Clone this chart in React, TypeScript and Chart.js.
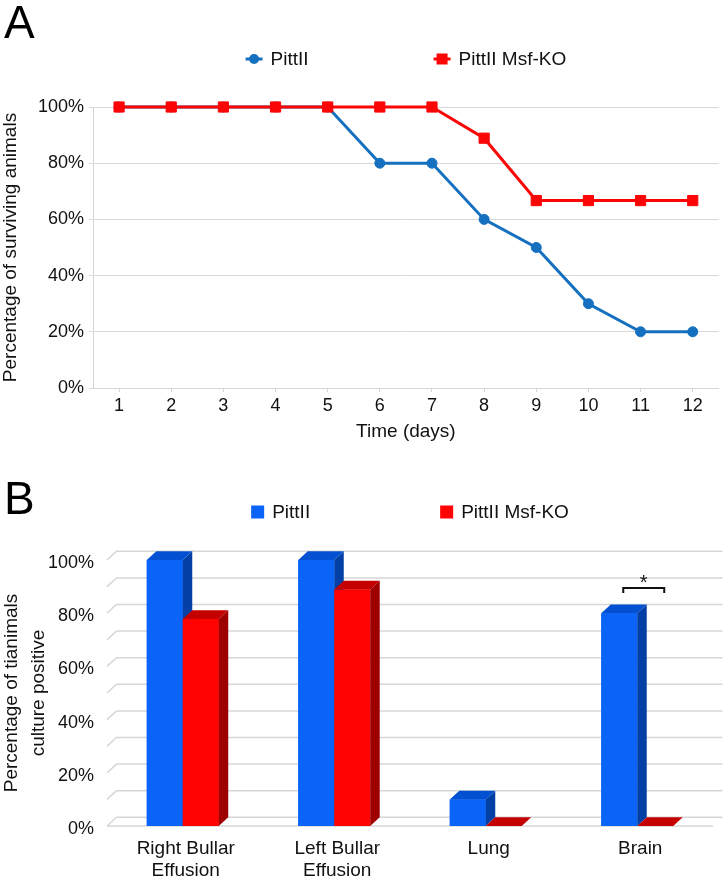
import React, { useEffect, useRef } from 'react';
import { Chart, registerables } from 'chart.js';

Chart.register(...registerables);

const FONT = "'Liberation Sans', Arial, Helvetica, sans-serif";
const TEXT = '#111111';

// ---------- Panel A data ----------
const days = ['1', '2', '3', '4', '5', '6', '7', '8', '9', '10', '11', '12'];
const pittIISurvival = [100, 100, 100, 100, 100, 80, 80, 60, 50, 30, 20, 20];
const msfKoSurvival = [100, 100, 100, 100, 100, 100, 100, 88.9, 66.7, 66.7, 66.7, 66.7];
const survivalTickStep = 20;

// ---------- Panel B data ----------
const sites: (string | string[])[] = [['Right Bullar', 'Effusion'], ['Left Bullar', 'Effusion'], 'Lung', 'Brain'];
const pittIICulture = [100, 100, 10, 80];
const msfKoCulture = [77.8, 88.9, 0, 0];
const cultureGridStep = 10;
const cultureLabelStep = 20;
const sigSiteIndex = 3;
const sigLevel = 89.5;
const sigMark = '*';

const seriesNames = ['PittII', 'PittII Msf-KO'];

const BLUE_A = '#1570bf';
const RED_A = '#fa0606';
const BLUE_B = { front: '#0a64f7', top: '#0350d2', side: '#0240a6' };
const RED_B = { front: '#ff0202', top: '#c40000', side: '#9e0000' };

const legendPlugin = {
  id: 'customLegend',
  afterDraw(chart: any, _args: any, opts: any) {
    const { ctx, chartArea } = chart;
    ctx.save();
    ctx.font = `${opts.fontSize}px ${FONT}`;
    const items = chart.data.datasets.map((ds: any, i: number) => ({
      text: ds.label,
      color: opts.colors[i],
      shape: opts.shapes[i],
    }));
    const widths = items.map((it: any) => opts.markerW + opts.textGap + ctx.measureText(it.text).width);
    const total = widths.reduce((a: number, b: number) => a + b, 0) + opts.itemGap * (items.length - 1);
    let x = (chartArea.left + chartArea.right) / 2 - total / 2 + (opts.shiftX || 0);
    const y = opts.y;
    items.forEach((it: any, i: number) => {
      ctx.fillStyle = it.color;
      ctx.strokeStyle = it.color;
      if (opts.kind === 'line') {
        ctx.lineWidth = 3;
        ctx.beginPath();
        ctx.moveTo(x, y);
        ctx.lineTo(x + opts.markerW, y);
        ctx.stroke();
        const cx = x + opts.markerW / 2;
        ctx.beginPath();
        if (it.shape === 'circle') {
          ctx.arc(cx, y, 5, 0, Math.PI * 2);
        } else {
          ctx.rect(cx - 5.5, y - 5.5, 11, 11);
        }
        ctx.fill();
      } else {
        ctx.fillRect(x, y - opts.markerW / 2, opts.markerW, opts.markerW);
      }
      ctx.fillStyle = TEXT;
      ctx.textBaseline = 'middle';
      ctx.textAlign = 'left';
      ctx.fillText(it.text, x + opts.markerW + opts.textGap, y + 1);
      x += widths[i] + opts.itemGap;
    });
    ctx.restore();
  },
};

const bar3dPlugin = {
  id: 'bar3d',
  beforeDatasetsDraw(chart: any, _args: any, opts: any) {
    const { ctx, chartArea, scales } = chart;
    const y = scales.y;
    const { dx, dy } = opts;
    ctx.save();
    ctx.strokeStyle = '#d6d6d6';
    ctx.lineWidth = 1.5;
    y.ticks.forEach((t: any) => {
      const py = y.getPixelForValue(t.value);
      ctx.beginPath();
      ctx.moveTo(chartArea.left, py);
      ctx.lineTo(chartArea.left + dx, py - dy);
      ctx.lineTo(chartArea.right + dx, py - dy);
      ctx.stroke();
    });
    const p0 = y.getPixelForValue(0);
    ctx.beginPath();
    ctx.moveTo(chartArea.left, p0);
    ctx.lineTo(chartArea.right, p0);
    ctx.stroke();
    ctx.restore();
  },
  afterDatasetsDraw(chart: any, _args: any, opts: any) {
    const { ctx } = chart;
    const { dx, dy } = opts;
    ctx.save();
    chart.data.datasets.forEach((_ds: any, di: number) => {
      const faces = opts.faces[di];
      const meta = chart.getDatasetMeta(di);
      meta.data.forEach((bar: any) => {
        const { x, y, base, width } = bar.getProps(['x', 'y', 'base', 'width'], true);
        const l = x - width / 2;
        const r = x + width / 2;
        ctx.fillStyle = faces.front;
        ctx.fillRect(l, y, width, base - y);
        ctx.fillStyle = faces.top;
        ctx.beginPath();
        ctx.moveTo(l, y);
        ctx.lineTo(r, y);
        ctx.lineTo(r + dx, y - dy);
        ctx.lineTo(l + dx, y - dy);
        ctx.closePath();
        ctx.fill();
        ctx.fillStyle = faces.side;
        ctx.beginPath();
        ctx.moveTo(r, y);
        ctx.lineTo(r + dx, y - dy);
        ctx.lineTo(r + dx, base - dy);
        ctx.lineTo(r, base);
        ctx.closePath();
        ctx.fill();
      });
    });
    ctx.restore();
  },
  afterDraw(chart: any, _args: any, opts: any) {
    const { ctx } = chart;
    const b0 = chart.getDatasetMeta(0).data[opts.sigIndex];
    const b1 = chart.getDatasetMeta(1).data[opts.sigIndex];
    if (!b0 || !b1) return;
    const x1 = b0.x + 4;
    const x2 = b1.x + 9;
    const yy = chart.scales.y.getPixelForValue(opts.sigLevel);
    ctx.save();
    ctx.strokeStyle = '#111';
    ctx.lineWidth = 2;
    ctx.beginPath();
    ctx.moveTo(x1, yy + 5);
    ctx.lineTo(x1, yy);
    ctx.lineTo(x2, yy);
    ctx.lineTo(x2, yy + 5);
    ctx.stroke();
    ctx.fillStyle = '#111';
    ctx.font = `20px ${FONT}`;
    ctx.textAlign = 'center';
    ctx.textBaseline = 'alphabetic';
    ctx.fillText(opts.sigMark, (x1 + x2) / 2, yy + 1);
    ctx.restore();
  },
};

function SurvivalChart() {
  const ref = useRef<HTMLCanvasElement>(null);
  useEffect(() => {
    const H = 448;
    const chart = new Chart(ref.current as HTMLCanvasElement, {
      type: 'line',
      data: {
        labels: days,
        datasets: [
          {
            label: seriesNames[0],
            data: pittIISurvival,
            borderColor: BLUE_A,
            backgroundColor: BLUE_A,
            borderWidth: 3,
            pointStyle: 'circle',
            pointRadius: 5,
            pointBorderWidth: 1,
            tension: 0,
            clip: false as any,
            order: 1,
          },
          {
            label: seriesNames[1],
            data: msfKoSurvival,
            borderColor: RED_A,
            backgroundColor: RED_A,
            borderWidth: 3,
            pointStyle: 'rect',
            pointRadius: 7.2,
            pointBorderWidth: 1,
            tension: 0,
            clip: false as any,
            order: 0,
          },
        ],
      },
      options: {
        responsive: false,
        animation: false,
        layout: { padding: { top: 107, right: 5, left: 0, bottom: 0 } },
        plugins: {
          legend: { display: false },
          tooltip: { enabled: false },
          customLegend: {
            kind: 'line',
            y: 59,
            fontSize: 19,
            markerW: 17,
            textGap: 8,
            itemGap: 125,
            colors: [BLUE_A, RED_A],
            shapes: ['circle', 'rect'],
          },
        } as any,
        scales: {
          x: {
            type: 'category',
            offset: true,
            grid: { drawOnChartArea: false, drawTicks: true, tickLength: 4, color: '#d6d6d6' },
            border: { color: '#d6d6d6' },
            ticks: { color: TEXT, font: { family: FONT, size: 18 }, padding: 3, maxRotation: 0, autoSkip: false },
            title: {
              display: true,
              text: 'Time (days)',
              color: TEXT,
              font: { family: FONT, size: 19 },
              padding: { top: 0, bottom: 4.5 },
            },
            afterFit: (s: any) => {
              s.height = H - 388;
            },
          },
          y: {
            min: 0,
            max: 100,
            grid: { color: '#d9d9d9', tickLength: 4 },
            border: { color: '#d6d6d6' },
            ticks: {
              stepSize: survivalTickStep,
              color: TEXT,
              font: { family: FONT, size: 18 },
              padding: 5,
              callback: (v: any) => `${v}%`,
            },
            title: {
              display: true,
              text: 'Percentage of surviving animals',
              color: TEXT,
              font: { family: FONT, size: 19 },
              padding: { top: -1, bottom: 0 },
            },
            afterFit: (s: any) => {
              s.width = 93;
            },
          },
        },
      },
      plugins: [legendPlugin],
    });
    return () => chart.destroy();
  }, []);
  return <canvas ref={ref} width={727} height={448} style={{ position: 'absolute', left: 0, top: 0 }} />;
}

function CultureChart() {
  const ref = useRef<HTMLCanvasElement>(null);
  useEffect(() => {
    const H = 444;
    const chart = new Chart(ref.current as HTMLCanvasElement, {
      type: 'bar',
      data: {
        labels: sites as any,
        datasets: [
          {
            label: seriesNames[0],
            data: pittIICulture,
            backgroundColor: BLUE_B.front,
            borderWidth: 0,
            categoryPercentage: 0.475,
            barPercentage: 1,
          },
          {
            label: seriesNames[1],
            data: msfKoCulture,
            backgroundColor: RED_B.front,
            borderWidth: 0,
            categoryPercentage: 0.475,
            barPercentage: 1,
          },
        ],
      },
      options: {
        responsive: false,
        animation: false,
        layout: { padding: { top: 124, right: 14, left: 0, bottom: 0 } },
        plugins: {
          legend: { display: false },
          tooltip: { enabled: false },
          customLegend: {
            kind: 'box',
            y: 76,
            fontSize: 19,
            markerW: 13,
            textGap: 8,
            itemGap: 130,
            colors: [BLUE_B.front, RED_B.front],
            shapes: ['box', 'box'],
          },
          bar3d: {
            dx: 9.5,
            dy: 8.7,
            faces: [BLUE_B, RED_B],
            sigIndex: sigSiteIndex,
            sigLevel: sigLevel,
            sigMark: sigMark,
          },
        } as any,
        scales: {
          x: {
            type: 'category',
            offset: true,
            grid: { display: false },
            border: { display: false },
            ticks: {
              color: TEXT,
              font: { family: FONT, size: 19 },
              padding: 3,
              labelOffset: 3,
              maxRotation: 0,
              autoSkip: false,
            },
            afterFit: (s: any) => {
              s.height = H - 390;
            },
          },
          y: {
            min: 0,
            max: 100,
            grid: { display: false },
            border: { display: false },
            ticks: {
              stepSize: cultureGridStep,
              autoSkip: false,
              color: TEXT,
              font: { family: FONT, size: 18 },
              padding: 5,
              labelOffset: 3,
              callback: (v: any) => (Number(v) % cultureLabelStep === 0 ? `${v}%` : ''),
            },
            title: {
              display: true,
              text: ['Percentage of tianimals', 'culture positive'],
              color: TEXT,
              font: { family: FONT, size: 19, lineHeight: 1.4 },
              padding: { top: -1.5, bottom: 0 },
            },
            afterFit: (s: any) => {
              s.width = 107;
            },
          },
        },
      },
      plugins: [legendPlugin, bar3dPlugin],
    });
    return () => chart.destroy();
  }, []);
  return <canvas ref={ref} width={727} height={444} style={{ position: 'absolute', left: 0, top: 436 }} />;
}

const panelLetter: React.CSSProperties = {
  position: 'absolute',
  left: 4,
  fontFamily: FONT,
  fontSize: 46,
  lineHeight: '46px',
  color: '#000',
};

export default function App() {
  return (
    <div
      style={{
        position: 'fixed',
        left: 0,
        top: 0,
        width: 727,
        height: 880,
        background: '#fff',
        overflow: 'hidden',
      }}
    >
      <SurvivalChart />
      <CultureChart />
      <div style={{ ...panelLetter, top: -1 }}>A</div>
      <div style={{ ...panelLetter, top: 475 }}>B</div>
    </div>
  );
}
